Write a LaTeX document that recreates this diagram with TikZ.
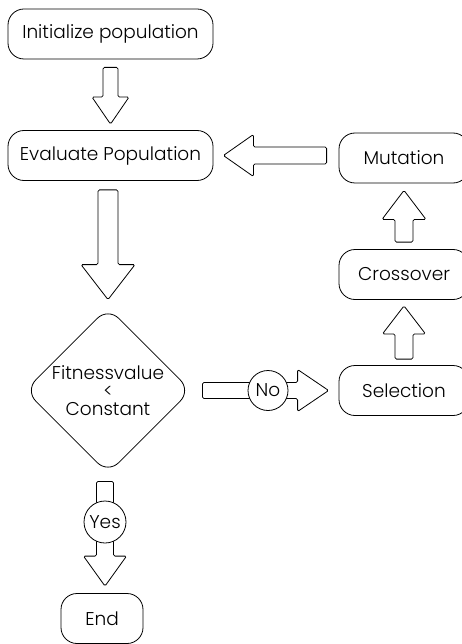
\documentclass[tikz,border=0pt]{standalone}
\usepackage{fontspec}
\setmainfont{Poppins}[UprightFont=* Light]
\usetikzlibrary{positioning, calc, shapes.geometric}
\tikzset{>=latex}
\tikzset{
  stepbox/.style={draw, rounded corners=16pt, minimum width=205pt, minimum height=50pt, inner sep=0pt},
  sidebox/.style={stepbox, minimum width=130pt},
  testbox/.style={draw, diamond, rounded corners=15pt, minimum width=166pt, minimum height=166pt, inner sep=0pt, align=center},
  tagbox/.style={draw, circle, fill=white, inner sep=0pt, minimum size=42pt},
  blk/.style args={#1/#2/#3/#4/#5}{rounded corners=1.5pt, to path={
    ($(\tikztostart)!#1!(\tikztotarget)!#3!90:(\tikztotarget)$)
    -- ($(\tikztotarget)!#2+#5!(\tikztostart)!#3!-90:(\tikztostart)$)
    -- ($(\tikztotarget)!#2+#5!(\tikztostart)!#4!-90:(\tikztostart)$)
    -- ($(\tikztotarget)!#2!(\tikztostart)$)
    -- ($(\tikztotarget)!#2+#5!(\tikztostart)!#4!90:(\tikztostart)$)
    -- ($(\tikztotarget)!#2+#5!(\tikztostart)!#3!90:(\tikztostart)$)
    -- ($(\tikztostart)!#1!(\tikztotarget)!#3!-90:(\tikztotarget)$)
    -- cycle}}
}

\begin{document}
\begin{tikzpicture}[x=1pt,y=-1pt,line width=0.8pt,every node/.style={font=\fontsize{18.5}{18}\selectfont}]
\useasboundingbox (0,0) rectangle (462,644);
\node[stepbox] (init) at (110.5,34) {Initialize population};
\node[stepbox] (eval) at (110.5,155.5) {Evaluate Population};
\node[testbox] (test) at (108,390.5) {Fitnessvalue\\<\\Constant};
\node[sidebox] (mut) at (404,158) {Mutation};
\node[sidebox] (cross) at (404,274.5) {Crossover};
\node[sidebox] (sel) at (404,390.5) {Selection};
\node[stepbox, minimum width=82pt] (end) at (102,618.5) {End};
\coordinate (yesat) at (105,522);

\draw (init.south) to[blk=8pt/6pt/7.5pt/18.5pt/27pt] (eval.north -| init.south);
\draw (eval.south -| test.north) to[blk=9pt/7.5pt/10pt/27pt/35pt] (test.north);
\draw (mut.west |- eval.east) to[blk=12pt/10pt/8.5pt/21pt/30pt] (eval.east);
\draw (cross.north) to[blk=7pt/7pt/9pt/22pt/29pt] (mut.south);
\draw (sel.north) to[blk=6pt/6pt/9pt/21.5pt/28pt] (cross.south);
\draw (test.east) to[blk=11pt/10pt/8pt/21pt/31pt] (sel.west);
\draw (test.south -| yesat) to[blk=7.5pt/7pt/8.5pt/21.5pt/30pt] (end.north -| yesat);

\node[tagbox, minimum size=40pt] (no) at (268,390.5) {No};
\node[tagbox] (yes) at (yesat) {Yes};
\end{tikzpicture}
\end{document}
